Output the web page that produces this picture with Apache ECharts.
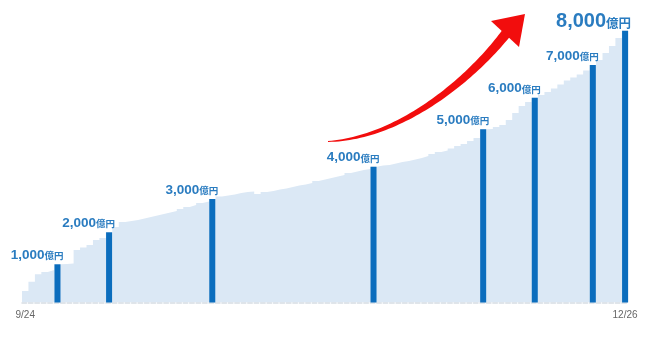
<!DOCTYPE html>
<html>
<head>
<meta charset="utf-8">
<script src="https://cdn.jsdelivr.net/npm/echarts@6/dist/echarts.min.js"></script>
<style>html,body{margin:0;padding:0;background:#fff}#c{width:650px;height:341px}</style>
</head>
<body>
<div id="c"></div>
<script>
// Daily categories 9/24 .. 12/26
const startDate = [9, 24];
const endDate = [12, 26];
const dayCategories = (function () {
  const out = [];
  const d = new Date(2024, startDate[0] - 1, startDate[1]);
  const e = new Date(2024, endDate[0] - 1, endDate[1]);
  while (d <= e) { out.push((d.getMonth() + 1) + '/' + d.getDate()); d.setDate(d.getDate() + 1); }
  return out;
})();

// cumulative amount per day (億円)
const cumulativeValues = [338, 612, 830, 898, 956, 1124, 1130, 1150, 1545, 1619,
  1692, 1839, 1898, 2066, 2222, 2369, 2398, 2428, 2472, 2516,
  2560, 2605, 2649, 2693, 2752, 2811, 2869, 2928, 2972, 3046,
  3120, 3149, 3178, 3223, 3252, 3267, 3193, 3252, 3281, 3326,
  3355, 3399, 3443, 3473, 3517, 3576, 3620, 3664, 3708, 3752,
  3811, 3855, 3900, 3929, 3997, 4032, 4047, 4091, 4135, 4164,
  4208, 4253, 4311, 4370, 4429, 4473, 4532, 4606, 4665, 4753,
  4841, 5097, 5106, 5165, 5224, 5371, 5577, 5783, 5901, 6027,
  6107, 6195, 6298, 6416, 6533, 6622, 6710, 6828, 6990, 7137,
  7343, 7549, 7784, 7999];

// milestone bars
const milestoneDates = ['9/29', '10/7', '10/23', '11/17', '12/4', '12/12', '12/21', '12/26'];
const milestoneValues = [1124, 2066, 3046, 3997, 5097, 6027, 6990, 7999];
const milestoneLabels = ['1,000', '2,000', '3,000', '4,000', '5,000', '6,000', '7,000', '8,000'];
const unitLabel = '億円';

const xTickLabels = ['9/24', '12/26'];

const chart = echarts.init(document.getElementById('c'), null, { renderer: 'canvas' });

const LABEL_COLOR = '#2a7cc0';
const AREA_COLOR = '#dbe8f5';

// step area: one point per day boundary (last value repeated to close the final day)
const stepCategories = dayCategories.concat(['end']);
const stepValues = cumulativeValues.concat([cumulativeValues[cumulativeValues.length - 1]]);

const darkData = dayCategories.map(function (d) {
  const k = milestoneDates.indexOf(d);
  if (k < 0) return '-';
  const last = k === milestoneDates.length - 1;
  return {
    value: milestoneValues[k],
    label: {
      show: true,
      position: 'top',
      align: 'right',
      offset: [6, 0],
      distance: last ? -1 : 2,
      formatter: '{n|' + milestoneLabels[k] + '}{u|' + unitLabel + '}',
      rich: {
        n: { fontSize: last ? 20 : 13.5, fontWeight: 'bold', color: LABEL_COLOR, fontFamily: 'Liberation Sans, Arial, sans-serif' },
        u: { fontSize: last ? 12.5 : 9.5, fontWeight: 'bold', color: LABEL_COLOR, fontFamily: 'Noto Sans CJK JP, sans-serif', padding: [last ? 3 : 1, 0, 0, 0] }
      }
    }
  };
});

// red arrow (decoration)
function arrowGraphics() {
  const P0 = [328, 141.5], P1 = [400, 138], P2 = [470, 80], P3 = [506, 33.5];
  const N = 60, left = [], right = [];
  for (let i = 0; i <= N; i++) {
    const t = i / N, mt = 1 - t;
    const x = mt*mt*mt*P0[0] + 3*mt*mt*t*P1[0] + 3*mt*t*t*P2[0] + t*t*t*P3[0];
    const y = mt*mt*mt*P0[1] + 3*mt*mt*t*P1[1] + 3*mt*t*t*P2[1] + t*t*t*P3[1];
    const dx = 3*mt*mt*(P1[0]-P0[0]) + 6*mt*t*(P2[0]-P1[0]) + 3*t*t*(P3[0]-P2[0]);
    const dy = 3*mt*mt*(P1[1]-P0[1]) + 6*mt*t*(P2[1]-P1[1]) + 3*t*t*(P3[1]-P2[1]);
    const L = Math.sqrt(dx*dx + dy*dy);
    const nx = -dy / L, ny = dx / L;
    const w = 0.4 + 4.6 * Math.pow(t, 0.8);
    left.push([x + nx*w, y + ny*w]);
    right.push([x - nx*w, y - ny*w]);
  }
  const pts = left.concat(right.reverse());
  return [
    { type: 'polygon', shape: { points: pts }, style: { fill: '#f20d0d' }, z: 100 },
    { type: 'polygon', shape: { points: [[491, 21], [525, 14], [519, 47]] }, style: { fill: '#f20d0d' }, z: 100 }
  ];
}

chart.setOption({
  animation: false,
  backgroundColor: '#ffffff',
  grid: { left: 22, right: 21.7, top: 3.5, bottom: 38.5, containLabel: false },
  xAxis: [
    {
      type: 'category',
      data: dayCategories,
      boundaryGap: true,
      axisLine: { show: true, lineStyle: { color: '#d6dde4', width: 1.5, type: [4.5, 1.95] } },
      axisTick: { show: false },
      axisLabel: {
        interval: 0,
        formatter: function (v) { return xTickLabels.indexOf(v) >= 0 ? v : ''; },
        color: '#666',
        fontSize: 10,
        margin: 8,
        fontFamily: 'Liberation Sans, Arial, sans-serif'
      },
      splitLine: { show: false },
      z: 3
    },
    {
      type: 'category',
      data: stepCategories,
      boundaryGap: false,
      show: false
    }
  ],
  yAxis: { type: 'value', min: 0, max: 8800, show: false, splitLine: { show: false } },
  series: [
    {
      type: 'line',
      xAxisIndex: 1,
      data: stepValues,
      step: 'end',
      symbol: 'none',
      lineStyle: { width: 0, color: AREA_COLOR },
      areaStyle: { color: AREA_COLOR, opacity: 1 },
      silent: true,
      z: 1
    },
    {
      type: 'bar',
      xAxisIndex: 0,
      data: darkData,
      barWidth: 6,
      itemStyle: { color: '#0b6dbd' },
      z: 5
    }
  ],
  graphic: arrowGraphics()
});
</script>
</body>
</html>
